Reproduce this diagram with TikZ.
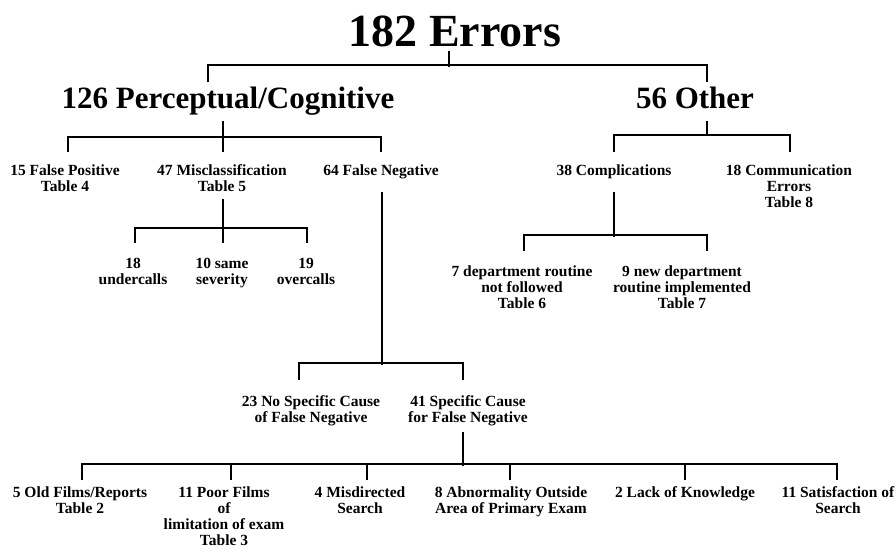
\documentclass[tikz,border=0pt]{standalone}
\usepackage{fontspec}
\setmainfont{Liberation Serif}
\tikzset{
  every picture/.style={line width=1.6pt},
  big/.style={font=\fontsize{46}{50}\selectfont\bfseries, inner sep=0pt, anchor=base},
  mid/.style={font=\fontsize{31}{34}\selectfont\bfseries, inner sep=0pt, anchor=base},
  lbl/.style={font=\fontsize{15.5}{16}\selectfont\bfseries, inner sep=0pt, anchor=north, align=center},
  link/.style={draw=black, line width=1.6pt},
}
\begin{document}
\begin{tikzpicture}[x=1pt, y=-1pt]
  \path[use as bounding box, fill=white] (0,0) rectangle (896,554);
  % top levels
  \node[big] (errors) at (455,46) {182 Errors};
  \node[mid] (percep) at (228,108) {126 Perceptual/Cognitive};
  \node[mid] (other) at (695,108) {56 Other};
  % third level
  \node[lbl] (fp) at (65,163.5) {15 False Positive\\Table 4};
  \node[lbl] (mis) at (222,163.5) {47 Misclassification\\Table 5};
  \node[lbl] (fn) at (381,163.5) {64 False Negative};
  \node[lbl] (comp) at (614,163.5) {38 Complications};
  \node[lbl] (comm) at (789,163.5) {18 Communication\\Errors\\Table 8};
  % misclassification split
  \node[lbl] (under) at (133,257.5) {18\\undercalls};
  \node[lbl] (same) at (222,257.5) {10 same\\severity};
  \node[lbl] (over) at (306,257.5) {19\\overcalls};
  % complications split
  \node[lbl] (drn) at (522,264.5) {7 department routine\\not followed\\Table 6};
  \node[lbl] (ndr) at (682,264.5) {9 new department\\routine implemented\\Table 7};
  % false negative split
  \node[lbl] (nsc) at (311,394.5) {23 No Specific Cause\\of False Negative};
  \node[lbl] (sc) at (468,394.5) {41 Specific Cause\\for False Negative};
  % specific causes
  \node[lbl] (old) at (80,485.5) {5 Old Films/Reports\\Table 2};
  \node[lbl] (poor) at (224,485.5) {11 Poor Films\\of\\limitation of exam\\Table 3};
  \node[lbl] (misd) at (360,485.5) {4 Misdirected\\Search};
  \node[lbl] (abn) at (511,485.5) {8 Abnormality Outside\\Area of Primary Exam};
  \node[lbl] (lack) at (685,485.5) {2 Lack of Knowledge};
  \node[lbl] (sat) at (838,485.5) {11 Satisfaction of\\Search};

  % errors -> perceptual, other
  \draw[link] ([xshift=-6pt,yshift=-4pt]errors.south) -- ++(0,-16pt);
  \draw[link] ([xshift=-20pt,yshift=3.5pt]percep.north) |- ([xshift=12pt,yshift=20.5pt]other.north) -- ([xshift=12pt,yshift=3.5pt]other.north);
  % perceptual -> fp, mis, fn
  \draw[link] ([xshift=-5pt,yshift=-5.5pt]percep.south) -- ++(0,-17pt);
  \draw[link] ([xshift=3pt,yshift=11.5pt]fp.north) |- ([yshift=26.5pt]fn.north) -- ([yshift=11.5pt]fn.north);
  \draw[link] ([xshift=1pt,yshift=11.5pt]mis.north) -- ++(0,15pt);
  % other -> comp, comm
  \draw[link] ([xshift=12pt,yshift=-12pt]other.south) -- ++(0,-15pt);
  \draw[link] ([yshift=11.5pt]comp.north) |- ([xshift=1pt,yshift=28.5pt]comm.north) -- ([xshift=1pt,yshift=11.5pt]comm.north);
  % mis -> under, same, over
  \draw[link] ([xshift=1pt,yshift=-7pt]mis.south) -- ++(0,-31pt);
  \draw[link] ([xshift=2pt,yshift=14.5pt]under.north) |- ([xshift=1pt,yshift=29.5pt]over.north) -- ([xshift=1pt,yshift=14.5pt]over.north);
  \draw[link] ([xshift=1pt,yshift=14.5pt]same.north) -- ++(0,15pt);
  % comp -> drn, ndr
  \draw[link] ([yshift=-13pt]comp.south) -- ++(0,-45pt);
  \draw[link] ([xshift=2pt,yshift=13.5pt]drn.north) |- ([xshift=25pt,yshift=29.5pt]ndr.north) -- ([xshift=25pt,yshift=13.5pt]ndr.north);
  % fn -> nsc, sc
  \draw[link] ([xshift=1pt,yshift=-13pt]fn.south) -- ++(0,-173pt);
  \draw[link] ([xshift=-12pt,yshift=14.5pt]nsc.north) |- ([xshift=-5pt,yshift=31.5pt]sc.north) -- ([xshift=-5pt,yshift=14.5pt]sc.north);
  % sc -> specific causes
  \draw[link] ([xshift=-5pt,yshift=-6pt]sc.south) -- ++(0,-34pt);
  \draw[link] ([xshift=2pt,yshift=5.5pt]old.north) |- ([xshift=-1pt,yshift=21.5pt]sat.north) -- ([xshift=-1pt,yshift=5.5pt]sat.north);
  \draw[link] ([xshift=7pt,yshift=5.5pt]poor.north) -- ++(0,16pt);
  \draw[link] ([xshift=7pt,yshift=5.5pt]misd.north) -- ++(0,16pt);
  \draw[link] ([xshift=-1pt,yshift=5.5pt]abn.north) -- ++(0,16pt);
  \draw[link] ([yshift=5.5pt]lack.north) -- ++(0,16pt);
\end{tikzpicture}
\end{document}
